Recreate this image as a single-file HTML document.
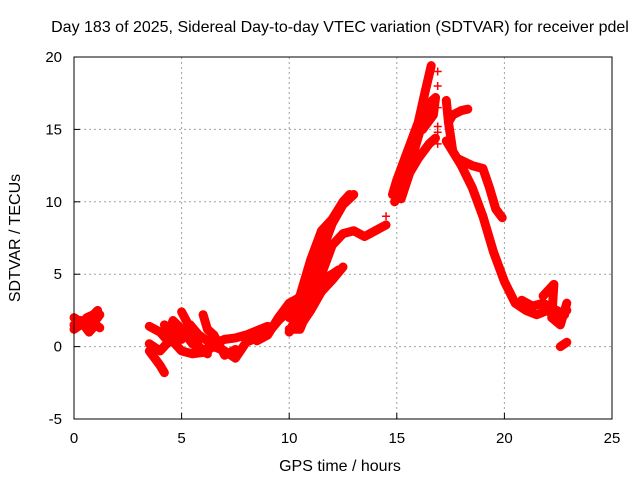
<!DOCTYPE html>
<html><head><meta charset="utf-8"><style>
body{margin:0;background:#fff;}
svg{display:block;font-family:"Liberation Sans",sans-serif;}
</style></head><body>
<svg id="chart" width="640" height="480">
<text x="340" y="32" font-size="16" text-anchor="middle">Day 183 of 2025, Sidereal Day-to-day VTEC variation (SDTVAR) for receiver pdel</text>
<text x="340" y="471" font-size="16" text-anchor="middle">GPS time / hours</text>
<text transform="translate(20,238) rotate(-90)" font-size="16" text-anchor="middle">SDTVAR / TECUs</text>
<g id="grid"></g><g id="ticks"></g><g id="marks"></g>
<rect x="74" y="57" width="538" height="362" fill="none" stroke="#000" stroke-width="1"/>
</svg>
<script>
const xTicks=[0,5,10,15,20,25];
const yTicks=[-5,0,5,10,15,20];
const tracks=[
[[0,1.5],[0.3,1.8],[0.5,1.5],[0.8,1.6],[1.0,1.8],[1.2,2.2]],
[[0,2.0],[0.4,1.6],[0.7,1.0],[1.0,1.5],[1.2,1.3]],
[[0,1.2],[0.3,1.5],[0.6,2.0],[0.9,2.2],[1.1,2.5]],
[[3.5,1.4],[4,1.0],[4.3,0.5],[4.6,1.8],[5,1.2],[5.5,0.2],[6,-0.3],[6.5,0.2],[7,0.5],[7.5,0.6],[8,0.8],[8.5,1.1],[9,1.4]],
[[3.5,0.2],[4,-0.3],[4.5,0.5],[5,-0.3],[5.5,-0.5],[6,-0.4],[6.5,0],[7,-0.3],[7.5,-0.8],[8,0.3],[8.5,0.6]],
[[3.5,-0.3],[4,-1.3],[4.2,-1.8]],
[[5,2.4],[5.5,1.0],[5.8,0],[6.2,-0.5]],
[[4.2,1.5],[4.6,1.0],[5.0,0.5],[5.4,1.5],[5.8,0.8],[6.3,0.3]],
[[6.0,2.2],[6.2,1.2],[6.5,0.8],[7,-0.6],[7.5,-0.2]],
[[8.5,0.4],[9,0.8],[9.5,2.0],[10,3.0],[10.5,3.4],[11,4.5]],
[[9,0.9],[9.5,1.8],[10,2.5],[10.5,3.5],[11,6.0],[11.5,8.0],[12,8.8],[12.5,10.0],[12.8,10.5]],
[[10,1.2],[10.5,1.2],[11,3.0],[11.5,5.0],[12,7.0],[12.5,7.8],[13,8.0],[13.5,7.6],[14,8.0],[14.5,8.4]],
[[10,1.0],[10.5,2.5],[11,4.5],[11.5,6.5],[12,8.5],[12.5,9.8],[13,10.5]],
[[10.5,1.4],[11,2.5],[11.5,3.8],[12,4.6],[12.5,5.5]],
[[10,2.0],[10.5,3.0],[11,4.0],[11.5,4.6],[12,5.0],[12.3,5.3]],
[[14.8,10.5],[15,11.5],[15.5,13.5],[16,15.5],[16.3,17.5],[16.6,19.4]],
[[14.9,10.0],[15.3,11.5],[15.8,13.5],[16.2,15.5],[16.5,16.8],[16.8,17.2],[16.7,16.0],[16.2,15]],
[[15.2,10.2],[15.6,12.0],[16.0,13.0],[16.5,14.0],[16.8,14.4]],
[[17.3,17.0],[17.4,15.5],[17.6,13.5],[18.0,12.5],[18.5,11.0],[19.0,9.0],[19.5,6.5],[20,4.5],[20.5,3.0],[21,2.5],[21.5,2.2],[22,2.5],[22.5,2.0],[22.9,2.5]],
[[17.4,15.5],[17.6,16.0],[18.0,16.3],[18.3,16.4]],
[[17.3,14.2],[17.8,13.0],[18.5,12.5],[19.0,12.3],[19.3,11.0],[19.6,9.5],[19.9,8.9]],
[[22.6,0],[22.9,0.3]],
[[21.8,3.5],[22.3,4.3],[22.2,2.0],[22.6,1.5],[22.9,3.0]],
[[20.8,3.2],[21.3,2.8],[21.8,3.0],[22.3,2.6],[22.8,2.2]]
];
const isolatedHours=[16.9,16.9,16.9,16.9,16.9,16.9,14.5];
const isolatedValues=[19,18,16.5,15.2,14.8,14,9.0];
const X=h=>74+h*(538/25);
const Y=v=>346.6-v*(362/25);
const NS="http://www.w3.org/2000/svg";
const g=document.getElementById('grid'),t=document.getElementById('ticks'),m=document.getElementById('marks');
function mk(tag,attrs,parent){const e=document.createElementNS(NS,tag);for(const k in attrs)e.setAttribute(k,attrs[k]);parent.appendChild(e);return e;}
xTicks.forEach(v=>{
 if(v>0&&v<25){const l=mk('line',{x1:X(v),x2:X(v),y1:57,y2:419,stroke:'#a0a0a0','stroke-dasharray':'2,3'},g);
 
 }
 const tk=mk('line',{x1:X(v),x2:X(v),y1:419,y2:413,stroke:'#000'},t);
 
 
 const tx=mk('text',{x:X(v),y:443,'font-size':15,'text-anchor':'middle'},t);tx.textContent=v;
 
 
});
yTicks.forEach(v=>{
 if(v>-5&&v<20){const l=mk('line',{x1:74,x2:612,y1:Y(v),y2:Y(v),stroke:'#a0a0a0','stroke-dasharray':'2,3'},g);
 
 }
 const tk=mk('line',{x1:74,x2:80,y1:Y(v),y2:Y(v),stroke:'#000'},t);
 
 
 const tx=mk('text',{x:62,y:Y(v)+5,'font-size':15,'text-anchor':'end'},t);tx.textContent=v;
 
 
});
function plus(h,v){const p=mk('path',{d:`M${X(h)-4},${Y(v)}h8M${X(h)},${Y(v)-4}v8`,stroke:'#f00','stroke-width':1.5},m);
 
 }
tracks.forEach(tr=>{
 const pl=mk('polyline',{points:tr.map(p=>X(p[0])+','+Y(p[1])).join(' '),fill:'none',stroke:'#f00','stroke-width':9,'stroke-linejoin':'round','stroke-linecap':'round'},m);
 
 
 tr.forEach(p=>plus(p[0],p[1]));
});
isolatedHours.forEach((h,i)=>plus(h,isolatedValues[i]));
</script>
</body></html>
